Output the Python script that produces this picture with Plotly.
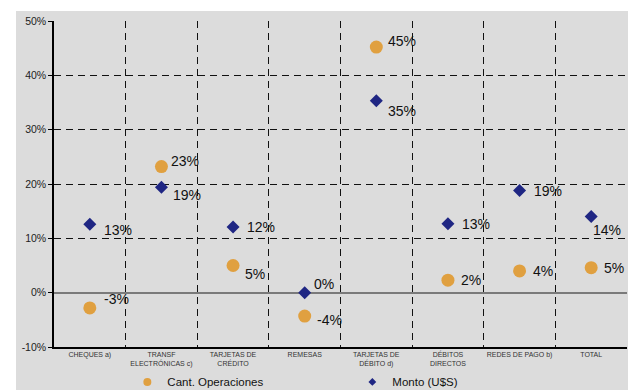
import plotly.graph_objects as go

categories = ["CHEQUES a)", "TRANSF<br>ELECTRÓNICAS c)", "TARJETAS DE<br>CRÉDITO", "REMESAS",
              "TARJETAS DE<br>DÉBITO d)", "DÉBITOS<br>DIRECTOS", "REDES DE PAGO b)", "TOTAL"]
cant_operaciones = [-2.8, 23.2, 5.0, -4.3, 45.2, 2.3, 4.0, 4.6]
monto_usd = [12.6, 19.4, 12.1, 0.0, 35.3, 12.7, 18.8, 14.0]
y_ticks = [-10, 0, 10, 20, 30, 40, 50]
y_tick_labels = [f"{t}%" for t in y_ticks]

# label offsets (px) relative to each marker: (xshift, yshift)
op_label_shift = [(12, 9), (8, 6), (10, -8), (10, -4), (10, 6), (11, 0), (11, 0), (11, 0)]
monto_label_shift = [(12, -6), (10, -8), (12, 0), (7, 9), (10, -10), (12, 0), (12, 0), (0, -13)]

ORANGE = "#E0A040"
NAVY = "#1F2683"
GRAY = "#DCDCDC"
FONT = "Arial, Liberation Sans, sans-serif"

fig = go.Figure()
fig.add_trace(go.Scatter(x=categories, y=cant_operaciones, mode="markers", showlegend=False,
                         marker=dict(symbol="circle", size=13, color=ORANGE), cliponaxis=False))
fig.add_trace(go.Scatter(x=categories, y=monto_usd, mode="markers", showlegend=False,
                         marker=dict(symbol="diamond", size=10, color=NAVY), cliponaxis=False))
# legend entries
fig.add_trace(go.Scatter(x=[None], y=[None], mode="markers", name="Cant. Operaciones",
                         marker=dict(symbol="circle", size=8, color=ORANGE)))
fig.add_trace(go.Scatter(x=[None], y=[None], mode="markers", name="Monto (U$S)",
                         marker=dict(symbol="diamond", size=6, color=NAVY)))

annotations = []
for vals, shifts in ((cant_operaciones, op_label_shift), (monto_usd, monto_label_shift)):
    for c, v, (dx, dy) in zip(categories, vals, shifts):
        annotations.append(dict(x=c, y=v, xref="x", yref="y", text=f"{round(v):.0f}%",
                                showarrow=False, xanchor="left", yanchor="middle",
                                xshift=dx, yshift=dy,
                                font=dict(family=FONT, size=14, color="#111111")))

fig.update_layout(
    width=628, height=390,
    margin=dict(l=54, r=1, t=21, b=43, autoexpand=False),
    paper_bgcolor="white", plot_bgcolor=GRAY,
    font=dict(family=FONT, color="#222222"),
    annotations=annotations,
    shapes=[dict(type="rect", xref="paper", yref="paper", x0=-0.0663, x1=1.01, y0=-0.14, y1=1.0307,
                 fillcolor=GRAY, line=dict(width=0), layer="below")],
    legend=dict(orientation="h", x=0.128, xanchor="left", y=-0.107, yanchor="middle",
                bgcolor="rgba(0,0,0,0)", font=dict(family=FONT, size=11.5, color="#111111"),
                entrywidth=180, itemwidth=30),
    xaxis=dict(type="category", categoryorder="array", categoryarray=categories,
               range=[-0.5, 7.5], tickson="boundaries", ticks="", ticklen=0, tickangle=0,
               showgrid=True, gridcolor="#111111", griddash="7px,5px", gridwidth=1,
               showline=True, linecolor="#000000", linewidth=1.5,
               tickfont=dict(family=FONT, size=7, color="#333333")),
    yaxis=dict(range=[-10, 50], tickmode="array", tickvals=y_ticks, ticktext=y_tick_labels,
               ticks="outside", ticklen=4, tickcolor="#000000",
               showgrid=True, gridcolor="#111111", griddash="7px,5px", gridwidth=1,
               zeroline=True, zerolinecolor="#7A7A7A", zerolinewidth=1.5,
               showline=True, linecolor="#000000", linewidth=1.5,
               tickfont=dict(family=FONT, size=10.5, color="#222222")),
)

fig.write_html("out.html")
